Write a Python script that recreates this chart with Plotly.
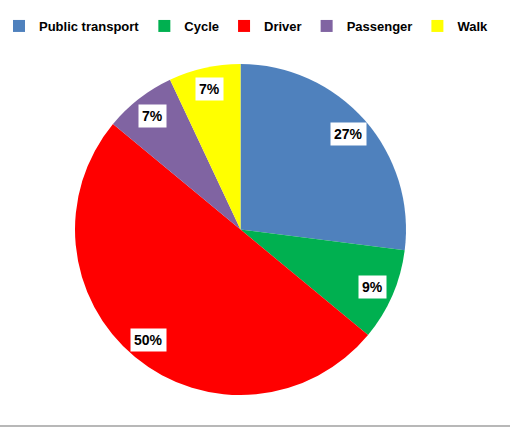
import numpy as np
import plotly.graph_objects as go

categories = ["Public transport", "Cycle", "Driver", "Passenger", "Walk"]
values = [27, 9, 50, 7, 7]
colors = ["#4F81BD", "#00B050", "#FF0000", "#8064A2", "#FFFF00"]

W, H = 510, 436
FONT = "Liberation Sans, Arial, sans-serif"
# pie domain in paper fraction (plot area spans full width)
DX0, DX1 = 75 / W, 406 / W

fig = go.Figure(go.Pie(
    labels=categories, values=values, sort=False, direction="clockwise",
    rotation=0, marker=dict(colors=colors, line=dict(width=0)),
    textinfo="none", hoverinfo="label+percent",
    domain=dict(x=[DX0, DX1], y=[0, 1]),
))

# percentage labels with white boxes, placed at slice mid-angles
vals = np.array(values, dtype=float)
total = vals.sum()
cum = np.cumsum(vals) - vals / 2
ang = cum / total * 2 * np.pi
rfrac = 0.87
cx = (DX0 + DX1) / 2
rx = (DX1 - DX0) / 2
annotations = []
for v, a in zip(vals, ang):
    annotations.append(dict(
        x=cx + rx * rfrac * np.sin(a), y=0.5 + 0.5 * rfrac * np.cos(a),
        xref="paper", yref="paper", xanchor="center", yanchor="middle",
        showarrow=False,
        text=f"{v / total * 100:.0f}%",
        font=dict(family=FONT, size=14, color="black", weight="bold"),
        bgcolor="white", borderpad=3,
    ))

fig.update_layout(
    width=W, height=H,
    margin=dict(l=0, r=0, t=64, b=41),
    paper_bgcolor="white", plot_bgcolor="white",
    showlegend=True,
    legend=dict(
        orientation="h", xref="container", yref="container",
        x=246.5 / W, xanchor="center", y=(H - 26) / H, yanchor="middle",
        font=dict(family=FONT, size=13, color="black", weight="bold"),
        itemwidth=30, bgcolor="rgba(0,0,0,0)",
        traceorder="normal",
    ),
    annotations=annotations,
    shapes=[dict(type="line", xref="paper", yref="paper",
                 x0=0, x1=1,
                 y0=-(426 - 395) / 331, y1=-(426 - 395) / 331,
                 line=dict(color="#A0A0A0", width=1.5))],
)

fig.write_html("out.html")
